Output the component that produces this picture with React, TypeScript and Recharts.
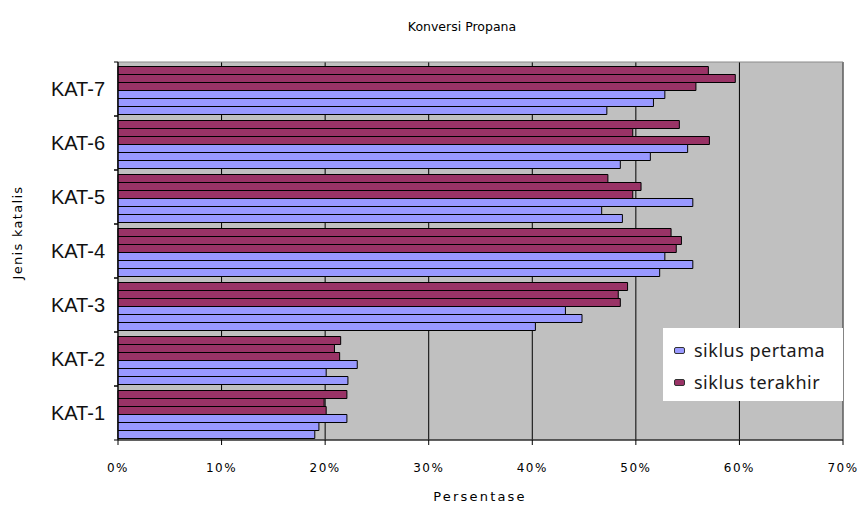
import React from 'react'
import { BarChart, Bar, XAxis, YAxis, CartesianGrid, Legend, ReferenceArea } from 'recharts'

// kategori katalis (bawah ke atas seperti di Excel)
const categories = ['KAT-1', 'KAT-2', 'KAT-3', 'KAT-4', 'KAT-5', 'KAT-6', 'KAT-7']

// siklus pertama (3 pengukuran), nilai dalam %
const pertama1 = [19.0, 22.2, 40.3, 52.3, 48.7, 48.5, 47.2]
const pertama2 = [19.4, 20.1, 44.8, 55.5, 46.7, 51.4, 51.7]
const pertama3 = [22.1, 23.1, 43.2, 52.8, 55.5, 55.0, 52.8]

// siklus terakhir (3 pengukuran)
const terakhir1 = [20.1, 21.4, 48.5, 53.9, 49.7, 57.1, 55.8]
const terakhir2 = [19.9, 20.9, 48.3, 54.4, 50.5, 49.7, 59.6]
const terakhir3 = [22.1, 21.5, 49.2, 53.4, 47.3, 54.2, 57.0]

const xTicks = [0, 10, 20, 30, 40, 50, 60, 70]

const BLUE = '#9999FF'
const PURPLE = '#993366'

const data = categories.map((name, i) => ({
  name,
  p1: pertama1[i],
  p2: pertama2[i],
  p3: pertama3[i],
  t1: terakhir1[i],
  t2: terakhir2[i],
  t3: terakhir3[i],
}))

const pixelFont = '"DejaVu Sans", sans-serif'

const CategoryTick = (props: any) => {
  const { x, y, payload } = props
  return (
    <g>
      <text x={x} y={y} dy={7} textAnchor="end" fontFamily='"Liberation Sans", Arial, sans-serif' fontSize={20} fill="#111">
        {payload.value}
      </text>
      <line x1={x + 9} x2={x + 13} y1={y - 27} y2={y - 27} stroke="#000" />
      <line x1={x + 9} x2={x + 13} y1={y + 27} y2={y + 27} stroke="#000" />
    </g>
  )
}

const LegendBox = () => (
  <div style={{ background: '#fff', width: 180, height: 73, boxSizing: 'border-box', paddingTop: 6, paddingLeft: 11 }}>
    {[
      { label: 'siklus pertama', color: BLUE },
      { label: 'siklus terakhir', color: PURPLE },
    ].map((item) => (
      <div key={item.label} style={{ display: 'flex', alignItems: 'center', height: 32 }}>
        <span style={{ display: 'inline-block', width: 9, height: 5, background: item.color, border: '1px solid #333', borderRadius: 2, marginRight: 9 }} />
        <span style={{ fontFamily: '"Noto Sans", sans-serif', fontSize: 18, letterSpacing: 0.5, color: '#1a1a1a' }}>{item.label}</span>
      </div>
    ))}
  </div>
)

export default function App() {
  return (
    <div style={{ position: 'absolute', left: 0, top: 0, width: 862, height: 506, background: '#fff' }}>
      <div style={{ position: 'absolute', left: 362, top: 19, width: 200, textAlign: 'center', fontFamily: pixelFont, fontSize: 12.5, color: '#000' }}>
        Konversi Propana
      </div>
      <div style={{ position: 'absolute', left: 380, top: 489, width: 200, textAlign: 'center', fontFamily: pixelFont, fontSize: 13, letterSpacing: 2.2, color: '#000' }}>
        Persentase
      </div>
      <div style={{ position: 'absolute', left: 17, top: 234, width: 0, height: 0 }}>
        <div style={{ position: 'absolute', left: -80, top: -9, width: 160, textAlign: 'center', transform: 'rotate(-90deg)', fontFamily: pixelFont, fontSize: 13, letterSpacing: 1.3, color: '#000' }}>
          Jenis katalis
        </div>
      </div>
      <BarChart
        width={862}
        height={506}
        data={data}
        layout="vertical"
        margin={{ top: 62, right: 19, bottom: 36, left: 0 }}
        barCategoryGap={4.5}
        barGap={0}
      >
        <CartesianGrid horizontal={false} stroke="#000" fill="#C0C0C0" />
        <ReferenceArea x1={0} x2={70} fill="none" stroke="#8a8a8a" ifOverflow="visible" />
        <XAxis
          type="number"
          domain={[0, 70]}
          ticks={xTicks}
          tickFormatter={(v) => `${v}%`}
          axisLine={{ stroke: '#000' }}
          tickLine={{ stroke: '#000' }}
          tickSize={5}
          tickMargin={18}
          height={30}
          tick={{ fontFamily: pixelFont, fontSize: 12, fill: '#000', letterSpacing: 1.5 }}
        />
        <YAxis
          type="category"
          dataKey="name"
          reversed
          width={118}
          axisLine={{ stroke: '#000' }}
          tickLine={false}
          tickSize={0}
          tickMargin={13}
          tick={<CategoryTick />}
        />
        <Legend
          layout="vertical"
          align="center"
          verticalAlign="middle"
          content={() => <LegendBox />}
          wrapperStyle={{ position: 'absolute', left: 663, top: 328, width: 180, height: 73 }}
        />
        <Bar dataKey="t3" name="siklus terakhir" fill={PURPLE} stroke="#000" isAnimationActive={false} legendType="none" />
        <Bar dataKey="t2" name="siklus terakhir" fill={PURPLE} stroke="#000" isAnimationActive={false} legendType="none" />
        <Bar dataKey="t1" name="siklus terakhir" fill={PURPLE} stroke="#000" isAnimationActive={false} />
        <Bar dataKey="p3" name="siklus pertama" fill={BLUE} stroke="#000" isAnimationActive={false} legendType="none" />
        <Bar dataKey="p2" name="siklus pertama" fill={BLUE} stroke="#000" isAnimationActive={false} legendType="none" />
        <Bar dataKey="p1" name="siklus pertama" fill={BLUE} stroke="#000" isAnimationActive={false} />
      </BarChart>
    </div>
  )
}
